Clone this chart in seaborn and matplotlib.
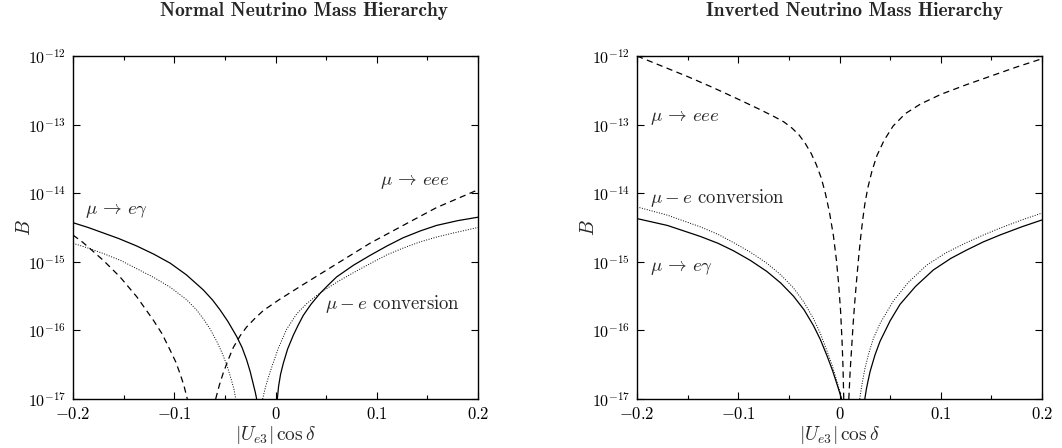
import numpy as np
import matplotlib
matplotlib.use("Agg")
import matplotlib.pyplot as plt
import matplotlib.ticker as mticker
import seaborn as sns

# ---------------- data (B given as log10 B) ----------------
panel_titles = ["Normal Neutrino Mass Hierarchy", "Inverted Neutrino Mass Hierarchy"]
xtick_values = [-0.2, -0.1, 0.0, 0.1, 0.2]
xtick_labels = ["$-0.2$", "$-0.1$", "$0$", "$0.1$", "$0.2$"]
ytick_values = [1e-17, 1e-16, 1e-15, 1e-14, 1e-13, 1e-12]

# Normal hierarchy: mu -> e gamma (solid)
nh_meg_left_x = [-0.200, -0.185, -0.170, -0.155, -0.137, -0.120, -0.104, -0.088, -0.0713, -0.062,
                 -0.0548, -0.047, -0.0383, -0.033, -0.0285, -0.025, -0.022, -0.020, -0.0186]
nh_meg_left_logB = [-14.43, -14.50, -14.58, -14.66, -14.77, -14.89, -15.02, -15.19, -15.41, -15.56,
                    -15.70, -15.87, -16.09, -16.25, -16.43, -16.60, -16.78, -16.90, -17.0]
nh_meg_right_x = [0.0018, 0.003, 0.005, 0.0077, 0.012, 0.0176, 0.0225, 0.0275, 0.035, 0.044,
                  0.052, 0.0604, 0.077, 0.093, 0.110, 0.126, 0.143, 0.159, 0.180, 0.200]
nh_meg_right_logB = [-17.0, -16.82, -16.64, -16.48, -16.27, -16.07, -15.92, -15.78, -15.62, -15.46,
                     -15.34, -15.22, -15.05, -14.91, -14.77, -14.65, -14.55, -14.47, -14.40, -14.35]

# Normal hierarchy: mu - e conversion (dotted)
nh_mec_left_x = [-0.200, -0.185, -0.170, -0.153, -0.137, -0.120, -0.104, -0.088, -0.078, -0.0713,
                 -0.065, -0.058, -0.053, -0.0482, -0.044, -0.041, -0.0393]
nh_mec_left_logB = [-14.73, -14.80, -14.88, -14.98, -15.10, -15.23, -15.37, -15.55, -15.70, -15.83,
                    -15.97, -16.16, -16.32, -16.50, -16.70, -16.86, -17.0]
nh_mec_right_x = [-0.0127, -0.0105, -0.008, -0.0054, -0.0022, 0.0028, 0.0111, 0.0209, 0.0308, 0.0407,
                  0.0506, 0.0637, 0.0768, 0.093, 0.1098, 0.126, 0.1427, 0.159, 0.1756, 0.200]
nh_mec_right_logB = [-17.0, -16.86, -16.73, -16.61, -16.47, -16.26, -15.98, -15.76, -15.61, -15.49,
                     -15.39, -15.27, -15.16, -15.03, -14.90, -14.80, -14.71, -14.64, -14.58, -14.50]

# Normal hierarchy: mu -> eee (dashed)
nh_meee_left_x = [-0.200, -0.190, -0.183, -0.170, -0.1536, -0.137, -0.1207, -0.112, -0.104, -0.0985,
                  -0.0943, -0.0905, -0.0871]
nh_meee_left_logB = [-14.61, -14.72, -14.81, -14.98, -15.22, -15.51, -15.85, -16.05, -16.29, -16.46,
                     -16.63, -16.80, -17.0]
nh_meee_right_x = [-0.0591, -0.0555, -0.0516, -0.0465, -0.0417, -0.035, -0.0285, -0.020, -0.012, 0.0038,
                   0.0275, 0.0604, 0.0933, 0.126, 0.159, 0.200]
nh_meee_right_logB = [-17.0, -16.80, -16.62, -16.42, -16.25, -16.08, -15.95, -15.82, -15.71, -15.55,
                      -15.33, -15.03, -14.73, -14.47, -14.21, -13.95]

# Inverted hierarchy: mu -> e gamma (solid)
ih_meg_left_x = [-0.200, -0.170, -0.1375, -0.120, -0.1046, -0.088, -0.0718, -0.058, -0.0455, -0.035,
                 -0.0257, -0.019, -0.0126, -0.007, -0.003, 0.000, 0.002]
ih_meg_left_logB = [-14.37, -14.47, -14.63, -14.73, -14.84, -14.98, -15.14, -15.31, -15.50, -15.70,
                    -15.93, -16.13, -16.36, -16.58, -16.76, -16.90, -17.0]
ih_meg_right_x = [0.025, 0.0265, 0.028, 0.0302, 0.035, 0.040, 0.050, 0.0598, 0.075, 0.0926,
                  0.110, 0.1254, 0.142, 0.1584, 0.180, 0.200]
ih_meg_right_logB = [-17.0, -16.86, -16.75, -16.60, -16.36, -16.16, -15.86, -15.62, -15.36, -15.12,
                     -14.95, -14.83, -14.71, -14.61, -14.49, -14.39]

# Inverted hierarchy: mu - e conversion (dotted)
ih_mec_left_x = [-0.200, -0.170, -0.1375, -0.120, -0.1046, -0.088, -0.0718, -0.058, -0.0455, -0.035,
                 -0.0257, -0.019, -0.0126, -0.007, -0.003, 0.000, 0.002]
ih_mec_left_logB = [-14.20, -14.32, -14.49, -14.60, -14.72, -14.86, -15.02, -15.19, -15.38, -15.59,
                    -15.83, -16.04, -16.29, -16.52, -16.72, -16.87, -17.0]
ih_mec_right_x = [0.020, 0.0215, 0.023, 0.0252, 0.029, 0.0334, 0.040, 0.0532, 0.068, 0.086,
                  0.105, 0.1254, 0.142, 0.1584, 0.180, 0.200]
ih_mec_right_logB = [-17.0, -16.85, -16.72, -16.55, -16.33, -16.12, -15.90, -15.57, -15.30, -15.05,
                     -14.87, -14.72, -14.61, -14.51, -14.39, -14.29]

# Inverted hierarchy: mu -> eee (dashed)
ih_meee_left_x = [-0.200, -0.175, -0.150, -0.125, -0.100, -0.080, -0.065, -0.055, -0.047, -0.040,
                  -0.034, -0.028, -0.023, -0.018, -0.014, -0.010, -0.006, -0.003, -0.001, 0.001,
                  0.0025, 0.0035, 0.0042]
ih_meee_left_logB = [-12.00, -12.15, -12.30, -12.46, -12.63, -12.77, -12.88, -12.96, -13.05, -13.15,
                     -13.27, -13.42, -13.58, -13.78, -14.00, -14.27, -14.62, -14.98, -15.30, -15.70,
                     -16.15, -16.55, -17.0]
ih_meee_right_x = [0.0092, 0.0105, 0.012, 0.0135, 0.015, 0.017, 0.019, 0.021, 0.023, 0.025,
                   0.028, 0.032, 0.037, 0.044, 0.053, 0.065, 0.080, 0.100, 0.125, 0.150,
                   0.175, 0.200]
ih_meee_right_logB = [-17.0, -16.60, -16.25, -15.90, -15.60, -15.25, -14.92, -14.63, -14.38, -14.16,
                      -13.92, -13.68, -13.45, -13.23, -13.02, -12.84, -12.70, -12.56, -12.42, -12.29,
                      -12.16, -12.04]

# label texts and anchor positions (data coordinates)
nh_labels = [("$\\mu \\,\\rightarrow\\, e\\gamma$", -0.188, 5.5e-15),
             ("$\\mu \\,\\rightarrow\\, eee$", 0.103, 1.45e-14),
             ("$\\mu - e$ conversion", 0.049, 2.4e-16)]
ih_labels = [("$\\mu \\,\\rightarrow\\, eee$", -0.187, 1.23e-13),
             ("$\\mu - e$ conversion", -0.187, 8.5e-15),
             ("$\\mu \\,\\rightarrow\\, e\\gamma$", -0.187, 8.0e-16)]

# ---------------- style ----------------
sns.set_style("ticks")
plt.rcParams["font.family"] = ["serif"]
plt.rcParams["font.serif"] = ["cmr10", "DejaVu Serif"]
plt.rcParams["mathtext.fontset"] = "cm"
plt.rcParams["axes.formatter.use_mathtext"] = True
plt.rcParams["axes.unicode_minus"] = True

fig = plt.figure(figsize=(10.62, 4.48), dpi=100)
axL = fig.add_axes([73 / 1062, 1 - 399 / 448, 405 / 1062, 343 / 448])
axR = fig.add_axes([637 / 1062, 1 - 399 / 448, 405 / 1062, 343 / 448])

solid = dict(color="black", linewidth=0.9, linestyle="-")
dotted = dict(color="black", linewidth=0.7, linestyle=(0, (1, 1.6)))
dashed = dict(color="black", linewidth=0.9, linestyle=(0, (5, 3.5)))


def draw(ax, xs, logb, style):
    sns.lineplot(x=xs, y=10.0 ** np.asarray(logb), ax=ax, legend=False, sort=False,
                 estimator=None, **style)


draw(axL, nh_meg_left_x, nh_meg_left_logB, solid)
draw(axL, nh_meg_right_x, nh_meg_right_logB, solid)
draw(axL, nh_mec_left_x, nh_mec_left_logB, dotted)
draw(axL, nh_mec_right_x, nh_mec_right_logB, dotted)
draw(axL, nh_meee_left_x, nh_meee_left_logB, dashed)
draw(axL, nh_meee_right_x, nh_meee_right_logB, dashed)

draw(axR, ih_meg_left_x, ih_meg_left_logB, solid)
draw(axR, ih_meg_right_x, ih_meg_right_logB, solid)
draw(axR, ih_mec_left_x, ih_mec_left_logB, dotted)
draw(axR, ih_mec_right_x, ih_mec_right_logB, dotted)
draw(axR, ih_meee_left_x, ih_meee_left_logB, dashed)
draw(axR, ih_meee_right_x, ih_meee_right_logB, dashed)

for ax, title, labels, tx in [(axL, panel_titles[0], nh_labels, 304 / 1062),
                              (axR, panel_titles[1], ih_labels, 855 / 1062)]:
    ax.set_yscale("log")
    ax.set_xlim(-0.2, 0.2)
    ax.set_ylim(1e-17, 1e-12)
    ax.set_xticks(xtick_values)
    ax.set_xticklabels(xtick_labels)
    ax.xaxis.set_minor_locator(mticker.MultipleLocator(0.05))
    ax.set_yticks(ytick_values)
    ax.yaxis.set_major_formatter(mticker.LogFormatterSciNotation())
    ax.yaxis.set_minor_locator(mticker.NullLocator())
    ax.tick_params(which="both", direction="in", top=True, right=True,
                   colors="black", width=0.8)
    ax.tick_params(axis="x", labelsize=12, pad=5)
    ax.tick_params(axis="y", labelsize=11.5, pad=5)
    ax.tick_params(which="major", length=5)
    ax.tick_params(which="minor", length=3)
    for sp in ax.spines.values():
        sp.set_linewidth(1.0)
        sp.set_color("black")
        sp.set_visible(True)
    ax.set_xlabel("$|U_{e3}|\\,\\cos\\delta$", fontsize=14, va="center")
    ax.xaxis.set_label_coords(0.5, -0.105)
    ax.set_ylabel("$B$", fontsize=14, va="center")
    ax.yaxis.set_label_coords(-0.118, 0.5)
    for txt, x, y in labels:
        ax.text(x, y, txt, fontsize=13.5, ha="left", va="center")
    fig.text(tx, 1 - 11 / 448, title, fontsize=14, fontfamily="cmb10",
             ha="center", va="center")

fig.savefig("out.png", dpi=100)
